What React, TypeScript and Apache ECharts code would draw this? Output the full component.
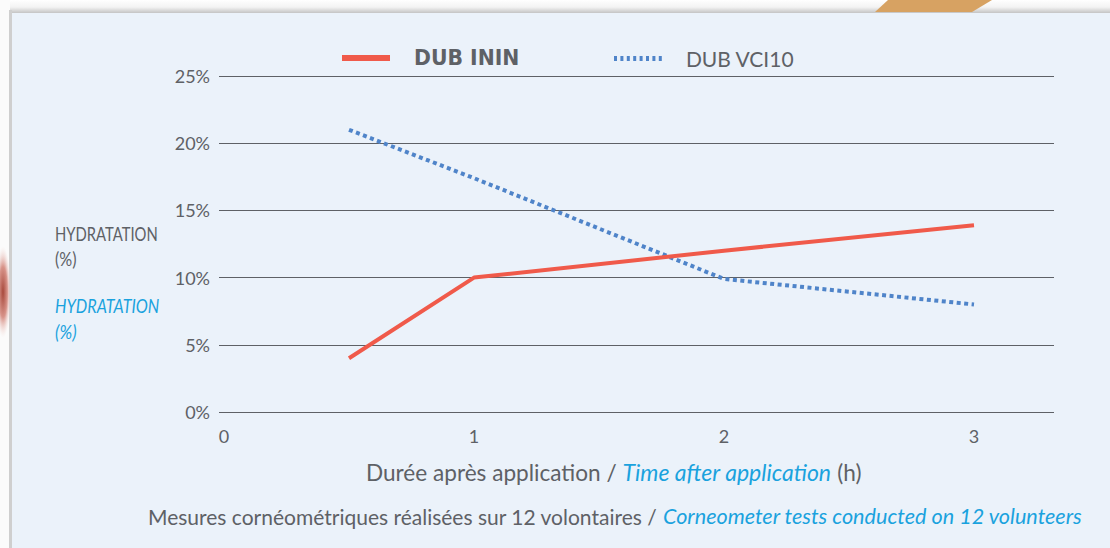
import React, { useEffect, useRef } from "react";
import * as echarts from "echarts";

// ---- data ----
const hours = [0.5, 1, 2, 3];
const dubInin = [4, 10, 12, 13.9];
const dubVci10 = [21, 17.4, 9.9, 8];
const seriesNames = ["DUB ININ", "DUB VCI10"];
const xTickValues = [1, 2, 3];
const yMax = 25;
const yStep = 5;
const xMax = 3.32;
const yAxisLineTop = 22.8;

const GRAY = "#5e6166";
const BLUE_TXT = "#1aa2de";
const RED = "#f05a4a";
const BLUE = "#4f84c9";
const FONT = "Lato";

const solidIcon = "path://M0,0h48v6h-48z";
const dotIcon =
  "path://" +
  [0, 1, 2, 3, 4, 5, 6, 7].map((i) => `M${i * 6.4},0h3v5h-3z`).join("");

export default function App() {
  const ref = useRef<HTMLDivElement>(null);
  useEffect(() => {
    if (!ref.current) return;
    const chart = echarts.init(ref.current, undefined, { renderer: "svg" });
    const option: any = {
      animation: false,
      backgroundColor: "#ebf2fa",
      textStyle: { fontFamily: FONT },
      grid: { left: 224, right: 56, top: 76, bottom: 136, containLabel: false },
      legend: [
        {
          left: 337,
          top: 43,
          itemWidth: 48,
          itemHeight: 6,
          data: [
            {
              name: seriesNames[0],
              icon: solidIcon,
              textStyle: { fontWeight: "bold", fontFamily: "DejaVu Sans", fontSize: 20.4 },
            },
          ],
          textStyle: { color: GRAY, fontSize: 20, lineHeight: 20, padding: [0, 0, 0, 19] },
        },
        {
          left: 609,
          top: 43,
          itemWidth: 48,
          itemHeight: 5,
          data: [{ name: seriesNames[1], icon: dotIcon }],
          textStyle: { color: GRAY, fontSize: 21, lineHeight: 20, padding: [0, 0, 0, 19] },
        },
      ],
      xAxis: {
        type: "value",
        min: 0,
        max: xMax,
        interval: 1,
        axisLine: { show: false },
        axisTick: { show: false },
        splitLine: { show: false },
        axisLabel: {
          color: GRAY,
          fontSize: 18,
          margin: 15,
          showMaxLabel: false,
          formatter: (v: number) => (Number.isInteger(v) ? String(v) : ""),
        },
      },
      yAxis: {
        type: "value",
        min: 0,
        max: yMax,
        interval: yStep,
        axisLine: { show: false },
        axisTick: { show: true, length: 5, lineStyle: { color: GRAY, width: 1 } },
        splitLine: { show: true, lineStyle: { color: GRAY, width: 1 } },
        axisLabel: { color: GRAY, fontSize: 18, margin: 14, formatter: "{value}%" },
      },
      series: [
        {
          name: seriesNames[0],
          type: "line",
          data: hours.map((h, i) => [h, dubInin[i]]),
          symbol: "none",
          clip: false,
          lineStyle: { color: RED, width: 4 },
          itemStyle: { color: RED },
          z: 3,
          markLine: {
            silent: true,
            symbol: ["none", "none"],
            label: { show: false },
            lineStyle: { color: GRAY, width: 1, type: "solid" },
            emphasis: { disabled: true },
            data: [
              [{ coord: [0, -0.4] }, { coord: [0, yAxisLineTop] }],
              ...xTickValues.map((t) => [
                { coord: [t, -0.45], lineStyle: { width: 3, color: GRAY, type: "solid" } },
                { coord: [t, 0.45] },
              ]),
            ],
          },
        },
        {
          name: seriesNames[1],
          type: "line",
          data: hours.map((h, i) => [h, dubVci10[i]]),
          symbol: "none",
          lineStyle: { color: BLUE, width: 4, type: [4, 3.5], cap: "butt" },
          itemStyle: { color: BLUE },
          z: 2,
        },
      ],
      graphic: {
        elements: [
          // top strip
          {
            type: "rect",
            left: 0,
            top: 0,
            shape: { width: 1110, height: 13 },
            style: {
              fill: new echarts.graphic.LinearGradient(0, 0, 0, 1, [
                { offset: 0, color: "#ffffff" },
                { offset: 0.55, color: "#f3f3f3" },
                { offset: 1, color: "#c4c4c4" },
              ]),
            },
            silent: true,
          },
          {
            type: "polygon",
            shape: { points: [[888, 0], [992, 0], [972, 12], [875, 12]] },
            style: { fill: "#d7a262" },
            silent: true,
          },
          // left strip
          {
            type: "rect",
            left: 0,
            top: 0,
            shape: { width: 10, height: 548 },
            style: { fill: "#fbfbfb" },
            silent: true,
          },
          {
            type: "rect",
            left: 9,
            top: 10,
            shape: { width: 3, height: 538 },
            style: { fill: "#cfcfcf" },
            silent: true,
          },
          {
            type: "ellipse",
            shape: { cx: 3, cy: 292, rx: 8, ry: 46 },
            style: {
              fill: new echarts.graphic.RadialGradient(0.5, 0.5, 0.5, [
                { offset: 0, color: "#a8493c" },
                { offset: 0.55, color: "#d8948a" },
                { offset: 1, color: "rgba(245,225,222,0)" },
              ]),
            },
            silent: true,
          },
          // left axis titles
          {
            type: "text",
            x: 55,
            y: 234,
            scaleX: 0.78,
            style: { text: "HYDRATATION", fill: GRAY, font: `19px ${FONT}`, verticalAlign: "middle" },
          },
          {
            type: "text",
            x: 55,
            y: 259,
            scaleX: 0.85,
            style: { text: "(%)", fill: GRAY, font: `19px ${FONT}`, verticalAlign: "middle" },
          },
          {
            type: "text",
            x: 55,
            y: 306,
            scaleX: 0.85,
            style: { text: "HYDRATATION", fill: BLUE_TXT, font: `italic 19px ${FONT}`, verticalAlign: "middle" },
          },
          {
            type: "text",
            x: 55,
            y: 332,
            scaleX: 0.9,
            style: { text: "(%)", fill: BLUE_TXT, font: `italic 19px ${FONT}`, verticalAlign: "middle" },
          },
          // x axis title
          {
            type: "text",
            x: 366,
            y: 472,
            style: {
              text: "{g|Durée après application / }{b|Time after application}{g| (h)}",
              verticalAlign: "middle",
              rich: {
                g: { fill: GRAY, fontSize: 22.6, fontFamily: FONT },
                b: { fill: BLUE_TXT, fontSize: 23, fontFamily: FONT, fontStyle: "italic" },
              },
            },
          },
          // footnote
          {
            type: "text",
            x: 148,
            y: 516,
            style: {
              text: "{g|Mesures cornéométriques réalisées sur 12 volontaires / }{b|Corneometer tests conducted on 12 volunteers}",
              verticalAlign: "middle",
              rich: {
                g: { fill: GRAY, fontSize: 21, fontFamily: FONT },
                b: { fill: BLUE_TXT, fontSize: 21.6, fontFamily: FONT, fontStyle: "italic" },
              },
            },
          },
        ],
      },
    };
    chart.setOption(option);
    return () => chart.dispose();
  }, []);
  return (
    <div
      ref={ref}
      style={{ position: "absolute", left: 0, top: 0, width: 1110, height: 548 }}
    />
  );
}
